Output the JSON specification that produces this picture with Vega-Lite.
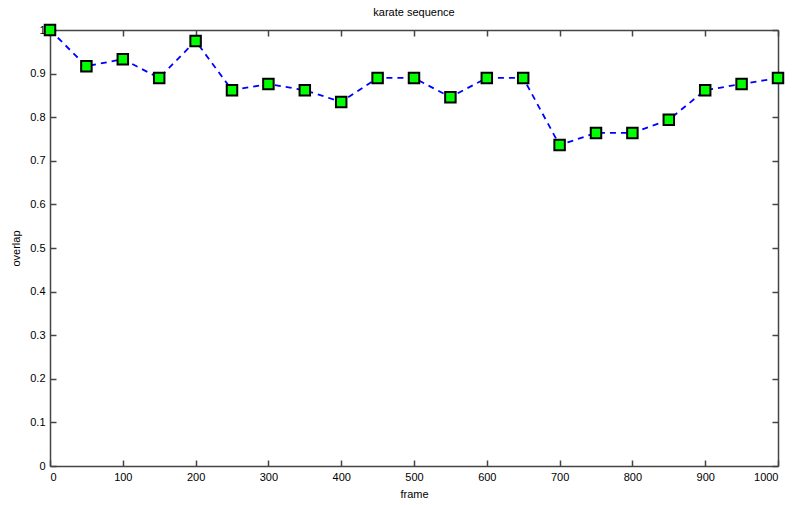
{
  "$schema": "https://vega.github.io/schema/vega-lite/v6.json",
  "width": 728,
  "height": 436,
  "autosize": "none",
  "padding": {"left": 50, "top": 30, "right": 14, "bottom": 39},
  "background": "white",
  "title": {"text": "karate sequence", "fontSize": 11, "font": "Liberation Sans", "fontWeight": "normal", "color": "black", "offset": 3},
  "config": {
    "view": {"stroke": null},
    "axis": {"domainColor": "#444", "tickColor": "#444", "labelColor": "black", "titleColor": "black", "labelFont": "Liberation Sans", "titleFont": "Liberation Sans", "labelFontSize": 11, "titleFontSize": 11, "titleFontWeight": "normal", "grid": false, "tickSize": -6, "domainWidth": 1.5, "tickWidth": 1.5}
  },
  "data": {"values": [
    {"frame": 0, "overlap": 1.0},
    {"frame": 50, "overlap": 0.917},
    {"frame": 100, "overlap": 0.933},
    {"frame": 150, "overlap": 0.89},
    {"frame": 200, "overlap": 0.975},
    {"frame": 250, "overlap": 0.862},
    {"frame": 300, "overlap": 0.876},
    {"frame": 350, "overlap": 0.862},
    {"frame": 400, "overlap": 0.835},
    {"frame": 450, "overlap": 0.89},
    {"frame": 500, "overlap": 0.89},
    {"frame": 550, "overlap": 0.846},
    {"frame": 600, "overlap": 0.89},
    {"frame": 650, "overlap": 0.89},
    {"frame": 700, "overlap": 0.736},
    {"frame": 750, "overlap": 0.764},
    {"frame": 800, "overlap": 0.764},
    {"frame": 850, "overlap": 0.794},
    {"frame": 900, "overlap": 0.862},
    {"frame": 950, "overlap": 0.876},
    {"frame": 1000, "overlap": 0.89}
  ]},
  "layer": [
    {
      "mark": {"type": "line", "color": "#0000ff", "strokeWidth": 1.8, "strokeDash": [6, 5]},
      "encoding": {
        "x": {"field": "frame", "type": "quantitative", "scale": {"domain": [0, 1000], "nice": false, "zero": false},
              "axis": {"title": "frame", "format": "d", "values": [0,100,200,300,400,500,600,700,800,900,1000], "labelPadding": 11, "titlePadding": 6}},
        "y": {"field": "overlap", "type": "quantitative", "scale": {"domain": [0, 1], "nice": false},
              "axis": {"title": "overlap", "values": [0,0.1,0.2,0.3,0.4,0.5,0.6,0.7,0.8,0.9,1], "format": "~g", "labelPadding": 11, "titlePadding": 8}}
      }
    },
    {
      "mark": {"type": "point", "shape": "square", "filled": true, "fill": "#00ff00", "stroke": "black", "strokeWidth": 2, "size": 110, "opacity": 1},
      "encoding": {
        "x": {"field": "frame", "type": "quantitative", "axis": {"orient": "top", "labels": false, "title": null, "values": [0,100,200,300,400,500,600,700,800,900,1000]}},
        "y": {"field": "overlap", "type": "quantitative", "axis": {"orient": "right", "labels": false, "title": null, "values": [0,0.1,0.2,0.3,0.4,0.5,0.6,0.7,0.8,0.9,1]}}
      }
    }
  ],
  "resolve": {"axis": {"x": "independent", "y": "independent"}}
}
